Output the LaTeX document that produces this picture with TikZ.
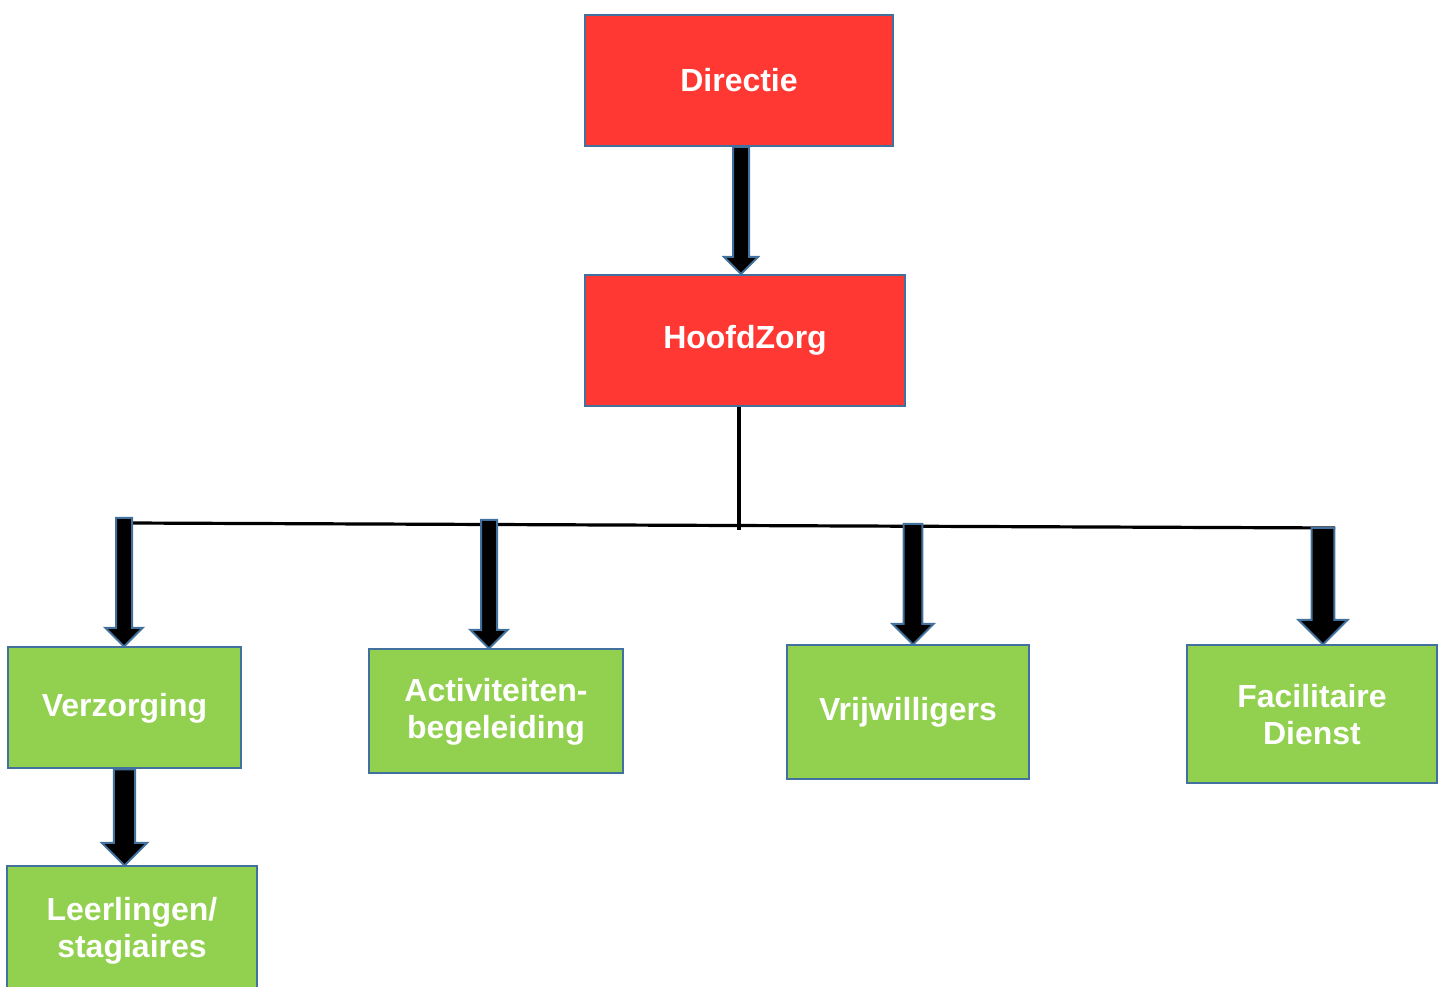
\documentclass[tikz,border=0pt]{standalone}
\usepackage{fontspec}
\setmainfont{Liberation Sans}
\usetikzlibrary{calc}
\definecolor{orgred}{HTML}{FF3833}
\definecolor{orggreen}{HTML}{92D050}
\definecolor{orgedge}{HTML}{41719C}

\begin{document}
\begin{tikzpicture}[x=0.75pt, y=0.75pt,
    every node/.style={text=white, font=\fontsize{24}{28}\selectfont\bfseries,
                       align=center, inner sep=0pt},
    box/.style={rectangle, draw=orgedge, line width=1.5pt},
    redbox/.style={box, fill=orgred},
    greenbox/.style={box, fill=orggreen},
    %% block arrow straight down: #1 = half shaft, #2 = half head (= head length)
    blockarrow/.style 2 args={draw=orgedge, fill=black, line width=1.5pt,
      to path={let \p1=(\tikztostart), \p2=(\tikztotarget) in
        (\x1-#1,\y1) -- (\x1-#1,\y2+#2) -- (\x1-#2,\y2+#2) -- (\x1,\y2)
        -- (\x1+#2,\y2+#2) -- (\x1+#1,\y2+#2) -- (\x1+#1,\y1) -- cycle}}]

  \useasboundingbox (0,0) rectangle (1440,987);
  \clip (0,0) rectangle (1440,987);

  %% ---- top: management ----
  \node[redbox, minimum width=231pt, minimum height=98.25pt] (dir) at (739,906.5) {Directie};
  \node[redbox, minimum width=240pt, minimum height=98.25pt] (hz) at (745,646.5) {HoofdZorg};

  %% ---- departments ----
  \node[greenbox, minimum width=174.75pt, minimum height=90.75pt] (verz) at (124.5,279) {Verzorging};
  \node[greenbox, minimum width=190.5pt, minimum height=93pt] (activ) at (496,275.5) {Activiteiten-\\begeleiding};
  \node[greenbox, minimum width=181.5pt, minimum height=100.5pt] (vrijw) at (908,274.5) {Vrijwilligers};
  \node[greenbox, minimum width=187.5pt, minimum height=103.5pt] (facil) at (1312,272.5) {Facilitaire\\Dienst};
  \node[greenbox, minimum width=187.5pt, minimum height=96pt] (leerl) at (132,56.5) {Leerlingen/\\stagiaires};

  %% ---- rail under HoofdZorg ----
  \coordinate (railL) at (124,464);
  \coordinate (railR) at (1335,459);
  \coordinate (railM) at (739,457);
  \draw[line width=2.4pt] (railL) -- (railR);
  \draw[line width=2.4pt] (hz.south -| railM) -- (railM);

  \coordinate (top1) at (124,469);
  \coordinate (top2) at (489,467);
  \coordinate (top3) at (913,463);
  \coordinate (top4) at (1323,459);
  \coordinate (top0) at ($(dir.south)+(2,0)$);

  %% ---- block arrows ----
  \draw[blockarrow={6pt}{12.75pt}] (top0) to (hz.north);
  \draw[blockarrow={6pt}{14pt}] (top1) to (verz.north);
  \draw[blockarrow={6pt}{14pt}] (top2) to (activ.north);
  \draw[blockarrow={7pt}{15.5pt}] (top3) to (vrijw.north);
  \draw[blockarrow={8.5pt}{18.5pt}] (top4) to (facil.north);
  \draw[blockarrow={8pt}{17pt}] (verz.south) to (leerl.north);

\end{tikzpicture}
\end{document}
